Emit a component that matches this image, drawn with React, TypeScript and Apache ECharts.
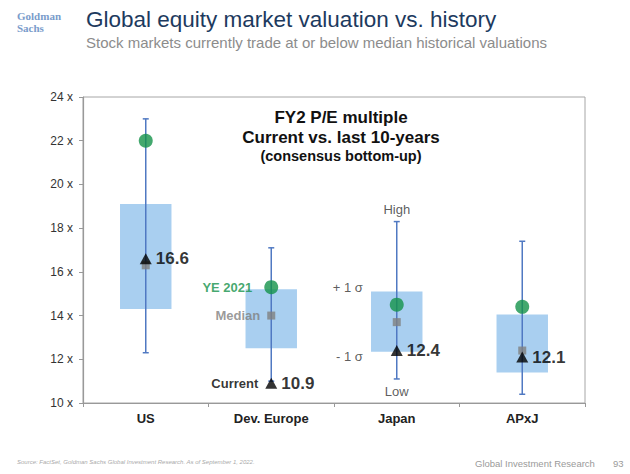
import React, { useEffect, useRef } from "react";
import * as echarts from "echarts";

const categories = ["US", "Dev. Europe", "Japan", "APxJ"];
const highs = [23.0, 17.1, 18.3, 17.4];
const lows = [12.3, 11.0, 11.1, 10.4];
const plusSigma = [19.1, 15.2, 15.1, 14.05];
const minusSigma = [14.3, 12.5, 12.35, 11.4];
const ye2021 = [22.0, 15.3, 14.5, 14.4];
const medians = [16.3, 14.0, 13.7, 12.4];
const current = [16.6, 10.9, 12.4, 12.1];
const yMin = 10;
const yMax = 24;
const yStep = 2;

const FONT = "'Liberation Sans', Arial, sans-serif";
const GREEN = "#14924a";
const BOX = "#a9cff0";
const WHISKER = "#5079c2";
const GRAY = "#7f7f7f";

export default function App() {
  const ref = useRef<HTMLDivElement>(null);

  useEffect(() => {
    document.body.style.margin = "0";
    if (!ref.current) return;
    const chart = echarts.init(ref.current, null, { renderer: "svg" });

    const annotation = (
      name: string,
      idx: number,
      value: number,
      text: string,
      position: string,
      distance: number,
      color: string,
      bold: boolean,
      offset: number[] = [0, 0]
    ) => ({
      type: "scatter",
      name,
      symbolSize: 0,
      silent: true,
      z: 10,
      data: [[idx, value]],
      label: {
        show: true,
        formatter: text,
        position,
        distance,
        offset,
        color,
        fontFamily: FONT,
        fontSize: 13,
        fontWeight: bold ? "bold" : "normal",
      },
    });

    const logoFont = "bold 11px 'Liberation Serif', 'DejaVu Serif', serif";

    chart.setOption({
      animation: false,
      textStyle: { fontFamily: FONT },
      grid: {
        left: 83,
        right: 45,
        top: 97,
        bottom: 71,
        show: true,
        borderColor: "#a6a6a6",
        borderWidth: 1,
        backgroundColor: "transparent",
      },
      xAxis: {
        type: "category",
        data: categories,
        boundaryGap: true,
        axisLine: { lineStyle: { color: "#999", width: 1.2 } },
        axisTick: { show: true, length: 4, lineStyle: { color: "#999" } },
        axisLabel: {
          color: "#222",
          fontFamily: FONT,
          fontSize: 13,
          fontWeight: "bold",
          margin: 9,
        },
        splitLine: { show: false },
      },
      yAxis: {
        type: "value",
        min: yMin,
        max: yMax,
        interval: yStep,
        axisLine: { show: true, lineStyle: { color: "#999", width: 1.2 } },
        axisTick: { show: true, length: 4, lineStyle: { color: "#999" } },
        axisLabel: {
          formatter: "{value} x",
          color: "#333",
          fontFamily: FONT,
          fontSize: 12,
          margin: 10,
        },
        splitLine: { show: false },
      },
      graphic: [
        {
          type: "text",
          x: 17,
          y: 16,
          style: {
            text: "Goldman",
            fill: "#7a9ccb",
            font: logoFont,
            verticalAlign: "middle",
          },
        },
        {
          type: "text",
          x: 17,
          y: 28,
          style: {
            text: "Sachs",
            fill: "#7a9ccb",
            font: logoFont,
            verticalAlign: "middle",
          },
        },
        {
          type: "text",
          left: 86,
          top: 8,
          style: {
            text: "Global equity market valuation vs. history",
            fill: "#1d3a5e",
            font: `22.5px ${FONT}`,
          },
        },
        {
          type: "text",
          left: 86,
          top: 35,
          style: {
            text: "Stock markets currently trade at or below median historical valuations",
            fill: "#8c8c8c",
            font: `15px ${FONT}`,
          },
        },
        {
          type: "text",
          x: 341,
          y: 117,
          style: {
            text: "FY2 P/E multiple",
            fill: "#111",
            font: `bold 17px ${FONT}`,
            align: "center",
            verticalAlign: "middle",
          },
        },
        {
          type: "text",
          x: 341,
          y: 137,
          style: {
            text: "Current vs. last 10-years",
            fill: "#111",
            font: `bold 17px ${FONT}`,
            align: "center",
            verticalAlign: "middle",
          },
        },
        {
          type: "text",
          x: 341,
          y: 156,
          style: {
            text: "(consensus bottom-up)",
            fill: "#111",
            font: `bold 14.5px ${FONT}`,
            align: "center",
            verticalAlign: "middle",
          },
        },
        {
          type: "text",
          x: 17,
          y: 462,
          style: {
            text: "Source: FactSet, Goldman Sachs Global Investment Research. As of September 1, 2022.",
            fill: "#aaa",
            font: `italic 6px ${FONT}`,
            verticalAlign: "middle",
          },
        },
        {
          type: "text",
          x: 475,
          y: 463,
          style: {
            text: "Global Investment Research",
            fill: "#9a9a9a",
            font: `9.5px ${FONT}`,
            verticalAlign: "middle",
          },
        },
        {
          type: "text",
          x: 613,
          y: 463,
          style: {
            text: "93",
            fill: "#9a9a9a",
            font: `9.5px ${FONT}`,
            verticalAlign: "middle",
          },
        },
      ],
      series: [
        {
          type: "custom",
          name: "sigma",
          z: 1,
          silent: true,
          encode: { x: 0, y: [1, 2] },
          data: categories.map((_, i) => [i, minusSigma[i], plusSigma[i]]),
          renderItem: (params: any, api: any) => {
            const x = api.value(0);
            const lo = api.coord([x, api.value(1)]);
            const hi = api.coord([x, api.value(2)]);
            const w = api.size([1, 0])[0] * 0.41;
            return {
              type: "rect",
              shape: { x: lo[0] - w / 2, y: hi[1], width: w, height: lo[1] - hi[1] },
              style: { fill: BOX },
            };
          },
        },
        {
          type: "custom",
          name: "range",
          z: 2,
          silent: true,
          encode: { x: 0, y: [1, 2] },
          data: categories.map((_, i) => [i, lows[i], highs[i]]),
          renderItem: (params: any, api: any) => {
            const x = api.value(0);
            const lo = api.coord([x, api.value(1)]);
            const hi = api.coord([x, api.value(2)]);
            const cap = 3;
            const style = { stroke: WHISKER, lineWidth: 1.5 };
            return {
              type: "group",
              children: [
                { type: "line", shape: { x1: lo[0], y1: lo[1], x2: hi[0], y2: hi[1] }, style },
                { type: "line", shape: { x1: hi[0] - cap, y1: hi[1], x2: hi[0] + cap, y2: hi[1] }, style },
                { type: "line", shape: { x1: lo[0] - cap, y1: lo[1], x2: lo[0] + cap, y2: lo[1] }, style },
              ],
            };
          },
        },
        {
          type: "scatter",
          name: "YE 2021",
          z: 3,
          symbol: "circle",
          symbolSize: 14,
          itemStyle: { color: GREEN },
          data: ye2021.map((v, i) => [i, v]),
        },
        {
          type: "scatter",
          name: "Median",
          z: 4,
          symbol: "rect",
          symbolSize: 8,
          itemStyle: { color: GRAY },
          data: medians.map((v, i) => [i, v]),
        },
        {
          type: "scatter",
          name: "Current",
          z: 5,
          symbol: "triangle",
          symbolSize: [12, 11],
          itemStyle: { color: "#000" },
          data: current.map((v, i) => [i, v]),
          label: {
            show: true,
            position: "right",
            distance: 4,
            formatter: (p: any) => p.value[1].toFixed(1),
            color: "#000",
            fontFamily: FONT,
            fontSize: 17,
            fontWeight: "bold",
          },
        },
        annotation("lbl-ye", 1, ye2021[1], "YE 2021", "left", 19, GREEN, true),
        annotation("lbl-med", 1, medians[1], "Median", "left", 11, GRAY, true),
        annotation("lbl-cur", 1, current[1], "Current", "left", 13, "#000", true),
        annotation("lbl-high", 2, highs[2], "High", "top", 6, "#333", false),
        annotation("lbl-low", 2, lows[2], "Low", "bottom", 6, "#333", false),
        annotation("lbl-p1", 2, plusSigma[2], "+ 1 σ", "left", 34, "#333", false, [0, -4]),
        annotation("lbl-m1", 2, minusSigma[2], "- 1 σ", "left", 34, "#333", false, [0, 5]),
      ],
    });

    return () => chart.dispose();
  }, []);

  return <div ref={ref} style={{ width: 630, height: 474 }} />;
}
